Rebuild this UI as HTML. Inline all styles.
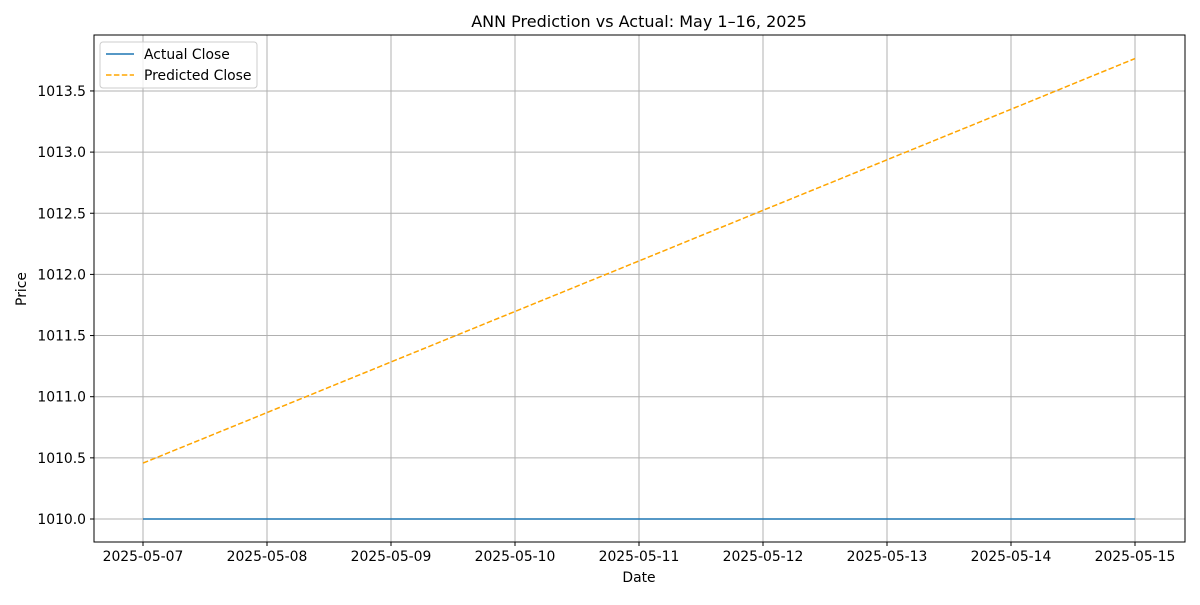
<!DOCTYPE html>
<html><head><meta charset="utf-8"><style>
body{margin:0;background:#fff;font-family:"Liberation Sans","DejaVu Sans",sans-serif}
svg text{font-family:"DejaVu Sans","Liberation Sans",sans-serif;fill:#000}
</style></head><body>
<svg id="chart" width="1200" height="600" xmlns="http://www.w3.org/2000/svg">
<rect width="1200" height="600" fill="#fff"/>
<g id="grid"></g><g id="series"></g><g id="axes"></g>
<text x="639" y="27" text-anchor="middle" font-size="16">ANN Prediction vs Actual: May 1–16, 2025</text>
<text x="639" y="582" text-anchor="middle" font-size="13.9">Date</text>
<text transform="translate(26,289) rotate(-90)" text-anchor="middle" font-size="13.9">Price</text>
<g>
<rect x="100" y="42" width="157" height="46" fill="#fff" fill-opacity="0.8" stroke="#ccc" rx="3"/>
<line x1="106" y1="54" x2="134" y2="54" stroke="#1f77b4" stroke-width="1.5"/>
<text x="144" y="59" font-size="13.9">Actual Close</text>
<line x1="106" y1="75" x2="134" y2="75" stroke="orange" stroke-width="1.5" stroke-dasharray="5.5,2.4"/>
<text x="144" y="80" font-size="13.9">Predicted Close</text>
</g>
</svg>
<script>
const dates=["2025-05-07","2025-05-08","2025-05-09","2025-05-10","2025-05-11","2025-05-12","2025-05-13","2025-05-14","2025-05-15"];
const actual=[1010,1010,1010,1010,1010,1010,1010,1010,1010];
const predicted=[1010.457,1010.87,1011.284,1011.697,1012.11,1012.524,1012.937,1013.35,1013.765];
const yTicks=[1010.0,1010.5,1011.0,1011.5,1012.0,1012.5,1013.0,1013.5];
const L=94,R=1185,T=35,B=542;
const x=i=>143+i*124;
const y=v=>519-(v-1010)*122.3;
const NS="http://www.w3.org/2000/svg";
function mk(tag,attrs,parent){const e=document.createElementNS(NS,tag);for(const k in attrs)e.setAttribute(k,attrs[k]);parent.appendChild(e);return e;}
const grid=document.getElementById('grid'),axes=document.getElementById('axes'),ser=document.getElementById('series');
dates.forEach((d,i)=>{
 const g=mk('line',{x1:x(i),x2:x(i),y1:T,y2:B,stroke:'#b0b0b0','stroke-width':1},grid);
 
 
 const t=mk('line',{x1:x(i),x2:x(i),y1:B,y2:B+4,stroke:'#000'},axes);
 
 
 const l=mk('text',{x:x(i),y:B+19,'text-anchor':'middle','font-size':13.9},axes);l.textContent=d;
 
 
});
yTicks.forEach(v=>{
 const g=mk('line',{x1:L,x2:R,y1:y(v),y2:y(v),stroke:'#b0b0b0','stroke-width':1},grid);
 
 
 const t=mk('line',{x1:L-4,x2:L,y1:y(v),y2:y(v),stroke:'#000'},axes);
 
 
 const l=mk('text',{x:L-8,y:y(v)+5,'text-anchor':'end','font-size':13.9},axes);l.textContent=v.toFixed(1);
 
 
});
const fr=mk('rect',{x:L,y:T,width:R-L,height:B-T,fill:'none',stroke:'#000','stroke-width':1},axes);


const pa=mk('polyline',{points:actual.map((v,i)=>x(i)+','+y(v)).join(' '),fill:'none',stroke:'#1f77b4','stroke-width':1.5},ser);


const pp=mk('polyline',{points:predicted.map((v,i)=>x(i)+','+y(v)).join(' '),fill:'none',stroke:'orange','stroke-width':1.5,'stroke-dasharray':'5.5,2.4'},ser);


</script>
</body></html>
